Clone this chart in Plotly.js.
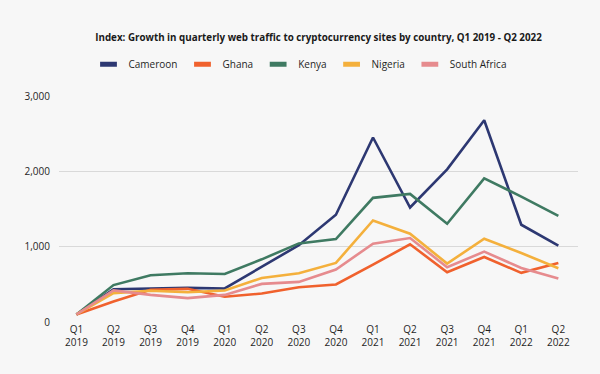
<!DOCTYPE html>
<html>
<head>
<meta charset="utf-8">
<script src="https://cdn.plot.ly/plotly-3.0.1.min.js"></script>
<style>html,body{margin:0;padding:0;background:#f7f7f7;}#chart{width:600px;height:374px;}</style>
</head>
<body>
<div id="chart"></div>
<script>
const quarters = ["Q1<br>2019","Q2<br>2019","Q3<br>2019","Q4<br>2019","Q1<br>2020","Q2<br>2020","Q3<br>2020","Q4<br>2020","Q1<br>2021","Q2<br>2021","Q3<br>2021","Q4<br>2021","Q1<br>2022","Q2<br>2022"];
const cameroon    = [100, 435, 445, 453, 445, 735, 1020, 1423, 2449, 1520, 2026, 2678, 1291, 1013];
const ghana       = [100, 273, 427, 440, 335, 378, 462, 498, 762, 1031, 661, 863, 652, 784];
const kenya       = [100, 490, 620, 647, 638, 832, 1043, 1101, 1648, 1700, 1304, 1907, 1665, 1410];
const nigeria     = [100, 383, 415, 395, 418, 585, 647, 784, 1348, 1172, 775, 1106, 916, 714];
const southAfrica = [100, 420, 360, 317, 360, 506, 532, 696, 1040, 1115, 727, 934, 718, 577];

const seriesNames = ["Cameroon","Ghana","Kenya","Nigeria","South Africa"];
const seriesData = [cameroon, ghana, kenya, nigeria, southAfrica];
const colors = ["#2d3872","#f0612d","#3f7a62","#f4b03c","#e68b8e"];

const traces = [];
seriesNames.forEach((n,i)=>{
  traces.push({
    type:"scatter", mode:"lines", name:n, legendgroup:n, showlegend:false,
    x: quarters, y: seriesData[i],
    line:{color:colors[i], width:2.6}
  });
});
seriesNames.forEach((n,i)=>{
  traces.push({
    type:"scatter", mode:"markers", name:n, legendgroup:n, showlegend:true,
    x:[null], y:[null],
    marker:{symbol:"line-ew-open", size:12, color:colors[i], line:{width:6, color:colors[i]}}
  });
});

const layout = {
  width:600, height:374,
  paper_bgcolor:"#f7f7f7", plot_bgcolor:"#f7f7f7",
  margin:{l:59, r:22, t:96, b:52},
  font:{family:"Open Sans, sans-serif", color:"#1f1f1f", size:10},
  title:{text:"<b>Index: Growth in quarterly web traffic to cryptocurrency sites by country, Q1 2019 - Q2 2022</b>",
         xref:"paper", x:0.5, xanchor:"center", yref:"container", y:0.9, yanchor:"middle", font:{size:9.8, color:"#1a1a1a"}},
  showlegend:true,
  legend:{orientation:"h", xref:"container", x:0.5, xanchor:"center", yref:"container", y:0.828, yanchor:"middle", font:{size:10}, bgcolor:"rgba(0,0,0,0)", itemwidth:30, tracegroupgap:0},
  xaxis:{type:"category", range:[-0.47,13.53], showgrid:false, zeroline:false, showline:false, ticks:"", tickfont:{size:10}},
  yaxis:{range:[0,3000], tickvals:[0,1000,2000,3000], ticktext:["0","1,000","2,000","3,000"], showgrid:true, gridcolor:"#d9d9d9", gridwidth:1.5, zeroline:false, showline:false, ticks:"", ticklabelstandoff:8, tickfont:{size:10}}
};
Plotly.newPlot("chart", traces, layout, {displayModeBar:false, staticPlot:true});
</script>
</body>
</html>
